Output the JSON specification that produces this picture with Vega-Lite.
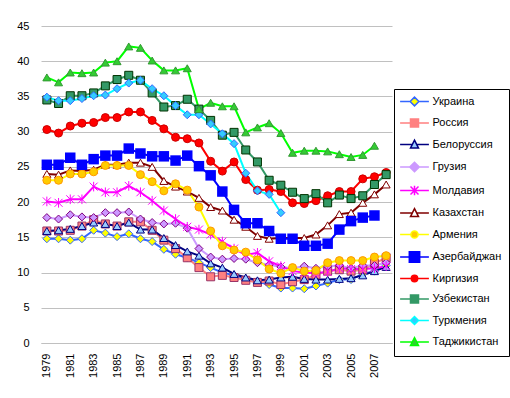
{
"$schema": "https://vega.github.io/schema/vega-lite/v6.json",
"width": 351, "height": 317,
"autosize": {"type": "none"},
"padding": {"left": 41, "top": 26, "right": 118, "bottom": 55},
"background": "white",
"config": {"view": {"stroke": null}, "font": "Liberation Sans"},
"data": {"values": [
{"country":"Украина","year":1979,"rate":14.8},{"country":"Украина","year":1980,"rate":14.8},{"country":"Украина","year":1981,"rate":14.6},{"country":"Украина","year":1982,"rate":14.8},{"country":"Украина","year":1983,"rate":16.0},{"country":"Украина","year":1984,"rate":15.6},{"country":"Украина","year":1985,"rate":15.1},{"country":"Украина","year":1986,"rate":15.5},{"country":"Украина","year":1987,"rate":14.8},{"country":"Украина","year":1988,"rate":14.4},{"country":"Украина","year":1989,"rate":13.3},{"country":"Украина","year":1990,"rate":12.6},{"country":"Украина","year":1991,"rate":12.1},{"country":"Украина","year":1992,"rate":11.4},{"country":"Украина","year":1993,"rate":10.7},{"country":"Украина","year":1994,"rate":10.0},{"country":"Украина","year":1995,"rate":9.6},{"country":"Украина","year":1996,"rate":9.1},{"country":"Украина","year":1997,"rate":8.7},{"country":"Украина","year":1998,"rate":8.3},{"country":"Украина","year":1999,"rate":7.8},{"country":"Украина","year":2000,"rate":7.8},{"country":"Украина","year":2001,"rate":7.7},{"country":"Украина","year":2002,"rate":8.1},{"country":"Украина","year":2003,"rate":8.5},{"country":"Украина","year":2004,"rate":9.0},{"country":"Украина","year":2005,"rate":9.0},{"country":"Украина","year":2006,"rate":9.8},{"country":"Украина","year":2007,"rate":10.2},{"country":"Украина","year":2008,"rate":11.0},
{"country":"Россия","year":1979,"rate":15.9},{"country":"Россия","year":1980,"rate":15.9},{"country":"Россия","year":1981,"rate":16.0},{"country":"Россия","year":1982,"rate":16.6},{"country":"Россия","year":1983,"rate":17.5},{"country":"Россия","year":1984,"rate":16.9},{"country":"Россия","year":1985,"rate":16.6},{"country":"Россия","year":1986,"rate":17.2},{"country":"Россия","year":1987,"rate":17.2},{"country":"Россия","year":1988,"rate":16.0},{"country":"Россия","year":1989,"rate":14.6},{"country":"Россия","year":1990,"rate":13.4},{"country":"Россия","year":1991,"rate":12.1},{"country":"Россия","year":1992,"rate":10.7},{"country":"Россия","year":1993,"rate":9.4},{"country":"Россия","year":1994,"rate":9.6},{"country":"Россия","year":1995,"rate":9.3},{"country":"Россия","year":1996,"rate":8.9},{"country":"Россия","year":1997,"rate":8.6},{"country":"Россия","year":1998,"rate":8.8},{"country":"Россия","year":1999,"rate":8.3},{"country":"Россия","year":2000,"rate":8.7},{"country":"Россия","year":2001,"rate":9.0},{"country":"Россия","year":2002,"rate":9.7},{"country":"Россия","year":2003,"rate":10.2},{"country":"Россия","year":2004,"rate":10.4},{"country":"Россия","year":2005,"rate":10.2},{"country":"Россия","year":2006,"rate":10.4},{"country":"Россия","year":2007,"rate":11.3},{"country":"Россия","year":2008,"rate":12.1},
{"country":"Белоруссия","year":1979,"rate":15.9},{"country":"Белоруссия","year":1980,"rate":16.0},{"country":"Белоруссия","year":1981,"rate":16.2},{"country":"Белоруссия","year":1982,"rate":16.6},{"country":"Белоруссия","year":1983,"rate":17.1},{"country":"Белоруссия","year":1984,"rate":16.9},{"country":"Белоруссия","year":1985,"rate":16.6},{"country":"Белоруссия","year":1986,"rate":17.1},{"country":"Белоруссия","year":1987,"rate":16.1},{"country":"Белоруссия","year":1988,"rate":16.1},{"country":"Белоруссия","year":1989,"rate":14.9},{"country":"Белоруссия","year":1990,"rate":13.9},{"country":"Белоруссия","year":1991,"rate":13.0},{"country":"Белоруссия","year":1992,"rate":12.4},{"country":"Белоруссия","year":1993,"rate":11.3},{"country":"Белоруссия","year":1994,"rate":10.7},{"country":"Белоруссия","year":1995,"rate":9.8},{"country":"Белоруссия","year":1996,"rate":9.3},{"country":"Белоруссия","year":1997,"rate":8.9},{"country":"Белоруссия","year":1998,"rate":9.0},{"country":"Белоруссия","year":1999,"rate":9.3},{"country":"Белоруссия","year":2000,"rate":9.4},{"country":"Белоруссия","year":2001,"rate":9.1},{"country":"Белоруссия","year":2002,"rate":9.0},{"country":"Белоруссия","year":2003,"rate":9.0},{"country":"Белоруссия","year":2004,"rate":9.1},{"country":"Белоруссия","year":2005,"rate":9.2},{"country":"Белоруссия","year":2006,"rate":9.6},{"country":"Белоруссия","year":2007,"rate":10.2},{"country":"Белоруссия","year":2008,"rate":10.8},
{"country":"Грузия","year":1979,"rate":17.8},{"country":"Грузия","year":1980,"rate":17.6},{"country":"Грузия","year":1981,"rate":18.2},{"country":"Грузия","year":1982,"rate":17.9},{"country":"Грузия","year":1983,"rate":17.8},{"country":"Грузия","year":1984,"rate":18.5},{"country":"Грузия","year":1985,"rate":18.5},{"country":"Грузия","year":1986,"rate":18.6},{"country":"Грузия","year":1987,"rate":17.6},{"country":"Грузия","year":1988,"rate":17.1},{"country":"Грузия","year":1989,"rate":16.9},{"country":"Грузия","year":1990,"rate":17.0},{"country":"Грузия","year":1991,"rate":16.3},{"country":"Грузия","year":1992,"rate":13.4},{"country":"Грузия","year":1993,"rate":12.2},{"country":"Грузия","year":1994,"rate":11.9},{"country":"Грузия","year":1995,"rate":12.0},{"country":"Грузия","year":1996,"rate":11.9},{"country":"Грузия","year":1997,"rate":11.4},{"country":"Грузия","year":1998,"rate":11.1},{"country":"Грузия","year":1999,"rate":10.8},{"country":"Грузия","year":2000,"rate":10.6},{"country":"Грузия","year":2001,"rate":10.9},{"country":"Грузия","year":2002,"rate":10.6},{"country":"Грузия","year":2003,"rate":10.9},{"country":"Грузия","year":2004,"rate":11.0},{"country":"Грузия","year":2005,"rate":10.6},{"country":"Грузия","year":2006,"rate":11.0},{"country":"Грузия","year":2007,"rate":11.0},{"country":"Грузия","year":2008,"rate":11.4},
{"country":"Молдавия","year":1979,"rate":20.1},{"country":"Молдавия","year":1980,"rate":19.9},{"country":"Молдавия","year":1981,"rate":20.4},{"country":"Молдавия","year":1982,"rate":20.4},{"country":"Молдавия","year":1983,"rate":22.2},{"country":"Молдавия","year":1984,"rate":21.4},{"country":"Молдавия","year":1985,"rate":21.4},{"country":"Молдавия","year":1986,"rate":22.3},{"country":"Молдавия","year":1987,"rate":21.4},{"country":"Молдавия","year":1988,"rate":20.2},{"country":"Молдавия","year":1989,"rate":18.8},{"country":"Молдавия","year":1990,"rate":17.6},{"country":"Молдавия","year":1991,"rate":16.5},{"country":"Молдавия","year":1992,"rate":16.1},{"country":"Молдавия","year":1993,"rate":15.4},{"country":"Молдавия","year":1994,"rate":14.4},{"country":"Молдавия","year":1995,"rate":13.4},{"country":"Молдавия","year":1996,"rate":12.5},{"country":"Молдавия","year":1997,"rate":12.8},{"country":"Молдавия","year":1998,"rate":11.6},{"country":"Молдавия","year":1999,"rate":10.9},{"country":"Молдавия","year":2000,"rate":10.2},{"country":"Молдавия","year":2001,"rate":10.0},{"country":"Молдавия","year":2002,"rate":9.9},{"country":"Молдавия","year":2003,"rate":10.1},{"country":"Молдавия","year":2004,"rate":10.6},{"country":"Молдавия","year":2005,"rate":10.5},{"country":"Молдавия","year":2006,"rate":10.5},{"country":"Молдавия","year":2007,"rate":10.6},{"country":"Молдавия","year":2008,"rate":10.9},
{"country":"Казахстан","year":1979,"rate":24.0},{"country":"Казахстан","year":1980,"rate":23.9},{"country":"Казахстан","year":1981,"rate":24.5},{"country":"Казахстан","year":1982,"rate":24.4},{"country":"Казахстан","year":1983,"rate":24.6},{"country":"Казахстан","year":1984,"rate":25.3},{"country":"Казахстан","year":1985,"rate":25.3},{"country":"Казахстан","year":1986,"rate":25.6},{"country":"Казахстан","year":1987,"rate":25.6},{"country":"Казахстан","year":1988,"rate":25.0},{"country":"Казахстан","year":1989,"rate":23.0},{"country":"Казахстан","year":1990,"rate":22.2},{"country":"Казахстан","year":1991,"rate":21.5},{"country":"Казахстан","year":1992,"rate":20.6},{"country":"Казахстан","year":1993,"rate":19.3},{"country":"Казахстан","year":1994,"rate":18.8},{"country":"Казахстан","year":1995,"rate":17.5},{"country":"Казахстан","year":1996,"rate":16.5},{"country":"Казахстан","year":1997,"rate":15.2},{"country":"Казахстан","year":1998,"rate":14.8},{"country":"Казахстан","year":1999,"rate":14.9},{"country":"Казахстан","year":2000,"rate":14.9},{"country":"Казахстан","year":2001,"rate":14.9},{"country":"Казахстан","year":2002,"rate":15.4},{"country":"Казахстан","year":2003,"rate":16.7},{"country":"Казахстан","year":2004,"rate":18.3},{"country":"Казахстан","year":2005,"rate":18.5},{"country":"Казахстан","year":2006,"rate":19.9},{"country":"Казахстан","year":2007,"rate":21.1},{"country":"Казахстан","year":2008,"rate":22.5},
{"country":"Армения","year":1979,"rate":23.1},{"country":"Армения","year":1980,"rate":23.1},{"country":"Армения","year":1981,"rate":24.0},{"country":"Армения","year":1982,"rate":24.0},{"country":"Армения","year":1983,"rate":24.3},{"country":"Армения","year":1984,"rate":25.2},{"country":"Армения","year":1985,"rate":25.2},{"country":"Армения","year":1986,"rate":25.2},{"country":"Армения","year":1987,"rate":23.9},{"country":"Армения","year":1988,"rate":22.9},{"country":"Армения","year":1989,"rate":21.6},{"country":"Армения","year":1990,"rate":22.6},{"country":"Армения","year":1991,"rate":21.7},{"country":"Армения","year":1992,"rate":19.3},{"country":"Армения","year":1993,"rate":15.9},{"country":"Армения","year":1994,"rate":13.8},{"country":"Армения","year":1995,"rate":13.2},{"country":"Армения","year":1996,"rate":12.9},{"country":"Армения","year":1997,"rate":11.8},{"country":"Армения","year":1998,"rate":10.5},{"country":"Армения","year":1999,"rate":9.9},{"country":"Армения","year":2000,"rate":10.7},{"country":"Армения","year":2001,"rate":10.2},{"country":"Армения","year":2002,"rate":10.3},{"country":"Армения","year":2003,"rate":11.4},{"country":"Армения","year":2004,"rate":11.7},{"country":"Армения","year":2005,"rate":11.7},{"country":"Армения","year":2006,"rate":11.7},{"country":"Армения","year":2007,"rate":12.2},{"country":"Армения","year":2008,"rate":12.4},
{"country":"Азербайджан","year":1979,"rate":25.3},{"country":"Азербайджан","year":1980,"rate":25.3},{"country":"Азербайджан","year":1981,"rate":26.3},{"country":"Азербайджан","year":1982,"rate":25.3},{"country":"Азербайджан","year":1983,"rate":26.1},{"country":"Азербайджан","year":1984,"rate":26.6},{"country":"Азербайджан","year":1985,"rate":26.6},{"country":"Азербайджан","year":1986,"rate":27.6},{"country":"Азербайджан","year":1987,"rate":26.9},{"country":"Азербайджан","year":1988,"rate":26.5},{"country":"Азербайджан","year":1989,"rate":26.5},{"country":"Азербайджан","year":1990,"rate":25.9},{"country":"Азербайджан","year":1991,"rate":26.6},{"country":"Азербайджан","year":1992,"rate":25.1},{"country":"Азербайджан","year":1993,"rate":23.8},{"country":"Азербайджан","year":1994,"rate":21.5},{"country":"Азербайджан","year":1995,"rate":18.9},{"country":"Азербайджан","year":1996,"rate":17.0},{"country":"Азербайджан","year":1997,"rate":17.0},{"country":"Азербайджан","year":1998,"rate":15.9},{"country":"Азербайджан","year":1999,"rate":14.8},{"country":"Азербайджан","year":2000,"rate":14.8},{"country":"Азербайджан","year":2001,"rate":13.8},{"country":"Азербайджан","year":2002,"rate":13.8},{"country":"Азербайджан","year":2003,"rate":14.1},{"country":"Азербайджан","year":2004,"rate":16.1},{"country":"Азербайджан","year":2005,"rate":17.3},{"country":"Азербайджан","year":2006,"rate":17.8},{"country":"Азербайджан","year":2007,"rate":18.1},
{"country":"Киргизия","year":1979,"rate":30.3},{"country":"Киргизия","year":1980,"rate":29.8},{"country":"Киргизия","year":1981,"rate":30.8},{"country":"Киргизия","year":1982,"rate":31.2},{"country":"Киргизия","year":1983,"rate":31.3},{"country":"Киргизия","year":1984,"rate":32.0},{"country":"Киргизия","year":1985,"rate":32.0},{"country":"Киргизия","year":1986,"rate":32.8},{"country":"Киргизия","year":1987,"rate":32.8},{"country":"Киргизия","year":1988,"rate":31.6},{"country":"Киргизия","year":1989,"rate":30.4},{"country":"Киргизия","year":1990,"rate":29.2},{"country":"Киргизия","year":1991,"rate":29.0},{"country":"Киргизия","year":1992,"rate":28.4},{"country":"Киргизия","year":1993,"rate":25.8},{"country":"Киргизия","year":1994,"rate":24.4},{"country":"Киргизия","year":1995,"rate":25.7},{"country":"Киргизия","year":1996,"rate":23.2},{"country":"Киргизия","year":1997,"rate":21.7},{"country":"Киргизия","year":1998,"rate":21.8},{"country":"Киргизия","year":1999,"rate":21.5},{"country":"Киргизия","year":2000,"rate":19.9},{"country":"Киргизия","year":2001,"rate":19.8},{"country":"Киргизия","year":2002,"rate":20.2},{"country":"Киргизия","year":2003,"rate":20.9},{"country":"Киргизия","year":2004,"rate":21.5},{"country":"Киргизия","year":2005,"rate":21.5},{"country":"Киргизия","year":2006,"rate":23.3},{"country":"Киргизия","year":2007,"rate":23.6},{"country":"Киргизия","year":2008,"rate":24.2},
{"country":"Узбекистан","year":1979,"rate":34.5},{"country":"Узбекистан","year":1980,"rate":34.0},{"country":"Узбекистан","year":1981,"rate":35.1},{"country":"Узбекистан","year":1982,"rate":35.1},{"country":"Узбекистан","year":1983,"rate":35.5},{"country":"Узбекистан","year":1984,"rate":36.5},{"country":"Узбекистан","year":1985,"rate":37.4},{"country":"Узбекистан","year":1986,"rate":38.0},{"country":"Узбекистан","year":1987,"rate":37.3},{"country":"Узбекистан","year":1988,"rate":35.5},{"country":"Узбекистан","year":1989,"rate":33.5},{"country":"Узбекистан","year":1990,"rate":33.7},{"country":"Узбекистан","year":1991,"rate":34.6},{"country":"Узбекистан","year":1992,"rate":33.2},{"country":"Узбекистан","year":1993,"rate":31.6},{"country":"Узбекистан","year":1994,"rate":29.5},{"country":"Узбекистан","year":1995,"rate":29.9},{"country":"Узбекистан","year":1996,"rate":27.4},{"country":"Узбекистан","year":1997,"rate":25.7},{"country":"Узбекистан","year":1998,"rate":23.1},{"country":"Узбекистан","year":1999,"rate":22.4},{"country":"Узбекистан","year":2000,"rate":21.4},{"country":"Узбекистан","year":2001,"rate":20.5},{"country":"Узбекистан","year":2002,"rate":21.2},{"country":"Узбекистан","year":2003,"rate":19.9},{"country":"Узбекистан","year":2004,"rate":21.0},{"country":"Узбекистан","year":2005,"rate":20.5},{"country":"Узбекистан","year":2006,"rate":20.9},{"country":"Узбекистан","year":2007,"rate":22.5},{"country":"Узбекистан","year":2008,"rate":23.9},
{"country":"Туркмения","year":1979,"rate":34.9},{"country":"Туркмения","year":1980,"rate":34.4},{"country":"Туркмения","year":1981,"rate":34.4},{"country":"Туркмения","year":1982,"rate":34.7},{"country":"Туркмения","year":1983,"rate":35.1},{"country":"Туркмения","year":1984,"rate":35.2},{"country":"Туркмения","year":1985,"rate":36.1},{"country":"Туркмения","year":1986,"rate":36.9},{"country":"Туркмения","year":1987,"rate":37.3},{"country":"Туркмения","year":1988,"rate":36.1},{"country":"Туркмения","year":1989,"rate":35.1},{"country":"Туркмения","year":1990,"rate":33.7},{"country":"Туркмения","year":1991,"rate":32.4},{"country":"Туркмения","year":1992,"rate":32.4},{"country":"Туркмения","year":1993,"rate":31.1},{"country":"Туркмения","year":1994,"rate":29.7},{"country":"Туркмения","year":1995,"rate":28.3},{"country":"Туркмения","year":1996,"rate":24.1},{"country":"Туркмения","year":1997,"rate":21.6},{"country":"Туркмения","year":1998,"rate":21.1},{"country":"Туркмения","year":1999,"rate":18.5},
{"country":"Таджикистан","year":1979,"rate":37.7},{"country":"Таджикистан","year":1980,"rate":37.0},{"country":"Таджикистан","year":1981,"rate":38.4},{"country":"Таджикистан","year":1982,"rate":38.3},{"country":"Таджикистан","year":1983,"rate":38.4},{"country":"Таджикистан","year":1984,"rate":39.8},{"country":"Таджикистан","year":1985,"rate":40.0},{"country":"Таджикистан","year":1986,"rate":42.1},{"country":"Таджикистан","year":1987,"rate":41.9},{"country":"Таджикистан","year":1988,"rate":40.1},{"country":"Таджикистан","year":1989,"rate":38.7},{"country":"Таджикистан","year":1990,"rate":38.7},{"country":"Таджикистан","year":1991,"rate":39.0},{"country":"Таджикистан","year":1992,"rate":33.2},{"country":"Таджикистан","year":1993,"rate":34.1},{"country":"Таджикистан","year":1994,"rate":33.6},{"country":"Таджикистан","year":1995,"rate":33.6},{"country":"Таджикистан","year":1996,"rate":29.9},{"country":"Таджикистан","year":1997,"rate":30.6},{"country":"Таджикистан","year":1998,"rate":31.2},{"country":"Таджикистан","year":1999,"rate":29.8},{"country":"Таджикистан","year":2000,"rate":27.0},{"country":"Таджикистан","year":2001,"rate":27.3},{"country":"Таджикистан","year":2002,"rate":27.3},{"country":"Таджикистан","year":2003,"rate":27.2},{"country":"Таджикистан","year":2004,"rate":26.8},{"country":"Таджикистан","year":2005,"rate":26.4},{"country":"Таджикистан","year":2006,"rate":26.7},{"country":"Таджикистан","year":2007,"rate":28.0}
]},
"encoding": {
  "x": {"field": "year", "type": "ordinal", "scale": {"type": "point", "padding": 0.5},
        "axis": {"title": null, "values": [1979,1981,1983,1985,1987,1989,1991,1993,1995,1997,1999,2001,2003,2005,2007],
                 "labelAngle": -90, "labelPadding": 10, "ticks": false, "tickSize": 0, "domainColor": "#C0C0C0", "domainWidth": 1,
                 "labelFontSize": 11, "labelColor": "black", "labelFont": "Liberation Sans", "grid": false}},
  "y": {"field": "rate", "type": "quantitative", "scale": {"domain": [0, 45], "nice": false, "zero": true},
        "axis": {"title": null, "values": [0,5,10,15,20,25,30,35,40,45], "grid": true, "gridColor": "#C0C0C0", "gridWidth": 1,
                 "domain": false, "ticks": false, "tickSize": 0, "labelPadding": 12, "labelFontSize": 11, "labelColor": "black", "labelFont": "Liberation Sans"}}
},
"layer": [
  {"mark": {"type": "line", "strokeWidth": 2},
   "encoding": {
     "color": {"field": "country", "type": "nominal", "sort": null,
       "scale": {"range": ["#3366FF","#FF8080","#000080","#CC99FF","#FF00FF","#800000","#FFFF00","#0000FF","#FF0000","#339966","#00FFFF","#00FF00"]},
       "legend": {"orient": "none", "legendX": 353, "legendY": 63, "title": null,
         "symbolSize": 64, "symbolStrokeWidth": 1.5, "symbolOffset": 8,
         "labelFontSize": 11, "labelFont": "Liberation Sans", "labelColor": "black", "labelOffset": 12.5,
         "rowPadding": 6.5, "padding": 7, "strokeColor": "black",
         "encode": {"symbols": {"update": {
           "shape": {"signal": "['M-3.6,0H-1.1M1.1,0H3.6M-1.1,0L0,-1.1L1.1,0L0,1.1Z','M-3.6,0H-1M1,0H3.6M-1,-1H1V1H-1Z','M-3.6,0H-0.55M0.55,0H3.6M0,-1.1L1,0.9H-1Z','M-3.6,0H-1.2M1.2,0H3.6M-1.2,0L0,-1.2L1.2,0L0,1.2Z','M-3.6,0H3.6M-1,-1L1,1M-1,1L1,-1M0,-1.2V1.2','M-3.6,0H-0.55M0.55,0H3.6M0,-1.1L1,0.9H-1Z','M-3.6,0H-0.9M0.9,0H3.6M-0.9,0A0.9,0.9,0,1,0,0.9,0A0.9,0.9,0,1,0,-0.9,0Z','M-3.6,0H-1.3M1.3,0H3.6M-1.3,-1.3H1.3V1.3H-1.3Z','M-3.6,0H-0.8M0.8,0H3.6M-0.8,0A0.8,0.8,0,1,0,0.8,0A0.8,0.8,0,1,0,-0.8,0Z','M-3.6,0H-1M1,0H3.6M-1,-1H1V1H-1Z','M-3.6,0H-1M1,0H3.6M-1,0L0,-1L1,0L0,1Z','M-3.6,0H-0.55M0.55,0H3.6M0,-1.1L1,0.9H-1Z'][indexof(['Украина','Россия','Белоруссия','Грузия','Молдавия','Казахстан','Армения','Азербайджан','Киргизия','Узбекистан','Туркмения','Таджикистан'], datum.value)]"},
           "fill": {"signal": "scale('fill', datum.value)"},
           "stroke": {"signal": "scale('color', datum.value)"},
           "size": {"value": 64},
           "strokeWidth": {"value": 1.5}
         }}}}}
   }},
  {"mark": {"type": "point", "filled": true, "opacity": 1, "strokeWidth": 1, "size": 64},
   "encoding": {
     "shape": {"field": "country", "type": "nominal", "legend": null,
       "scale": {"domain": ["Украина","Россия","Белоруссия","Грузия","Молдавия","Казахстан","Армения","Азербайджан","Киргизия","Узбекистан","Туркмения","Таджикистан"],
                 "range": ["diamond","square","triangle-up","diamond","M-1,-1L1,1M-1,1L1,-1M0,-1.2V1.2","triangle-up","circle","square","circle","square","diamond","triangle-up"]}},
     "fill": {"field": "country", "type": "nominal", "legend": null,
       "scale": {"domain": ["Украина","Россия","Белоруссия","Грузия","Молдавия","Казахстан","Армения","Азербайджан","Киргизия","Узбекистан","Туркмения","Таджикистан"],
                 "range": ["#FFFF00","#FF8080","#99CCFF","#CC99FF","#FF00FF","#FFFFFF","#FFCC00","#0000FF","#FF0000","#339966","#33CCFF","#33CC33"]}},
     "stroke": {"field": "country", "type": "nominal", "legend": null,
       "scale": {"domain": ["Украина","Россия","Белоруссия","Грузия","Молдавия","Казахстан","Армения","Азербайджан","Киргизия","Узбекистан","Туркмения","Таджикистан"],
                 "range": ["#3366FF","#993366","#000080","#800080","#FF00FF","#800000","#FF9900","#0000FF","#CC0000","#003300","#3366FF","#339933"]}}
   }},
  {"transform": [{"filter": {"field": "country", "equal": "Азербайджан"}}],
   "mark": {"type": "square", "size": 110, "filled": true, "color": "#0000FF", "opacity": 1},
   "encoding": {}}
]
}
